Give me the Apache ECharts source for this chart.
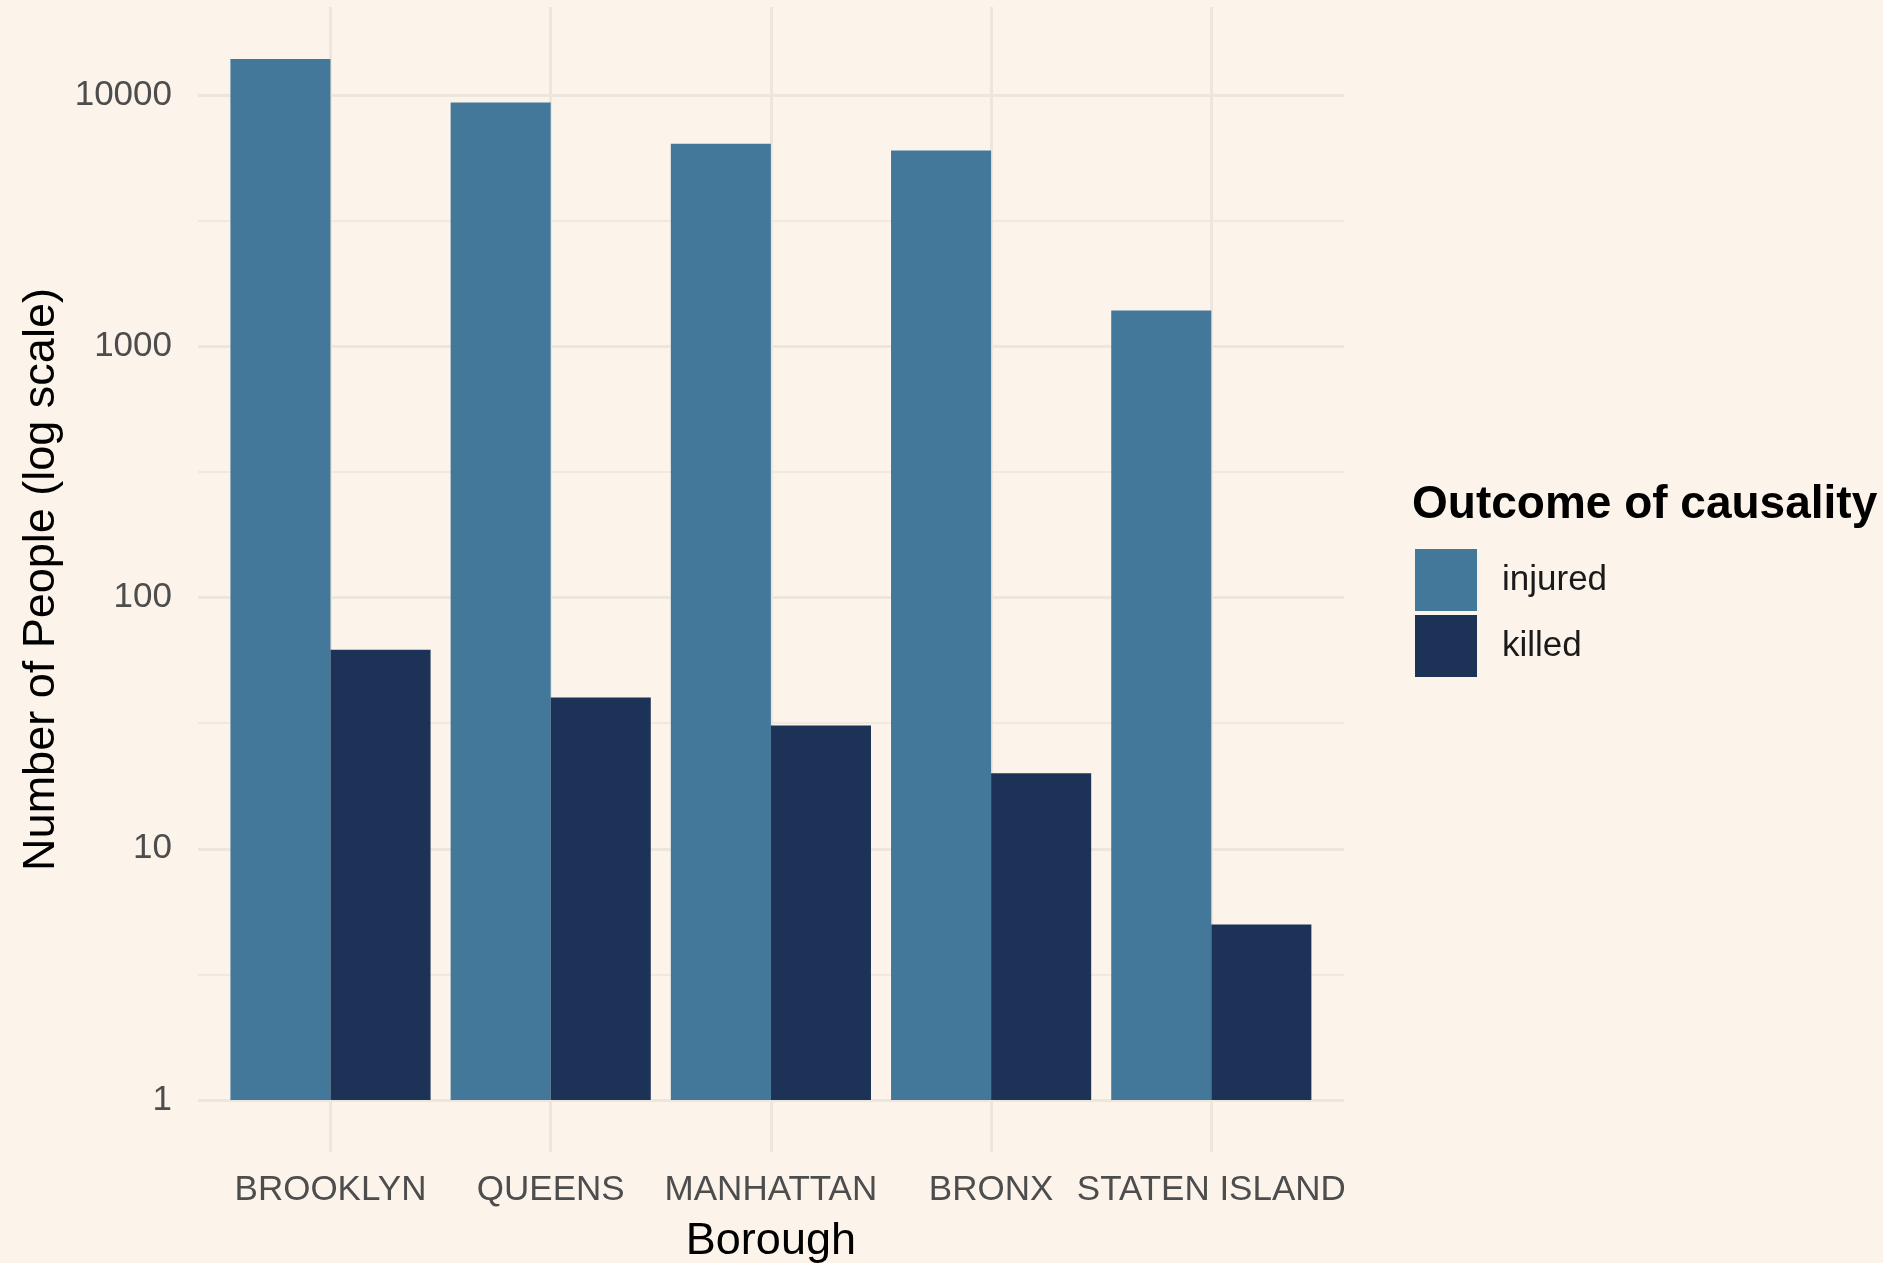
<!DOCTYPE html>
<html>
<head>
<meta charset="utf-8">
<script src="https://cdn.jsdelivr.net/npm/echarts@6/dist/echarts.min.js"></script>
<style>
html,body{margin:0;padding:0;background:#FCF4EB;}
#chart{width:1883px;height:1263px;}
</style>
</head>
<body>
<div id="chart"></div>
<script>
// ---- data ----
const boroughs = ['BROOKLYN', 'QUEENS', 'MANHATTAN', 'BRONX', 'STATEN ISLAND'];
const injured = [13950, 9370, 6420, 6030, 1390];
const killed = [62, 40, 31, 20, 5];
const seriesNames = ['injured', 'killed'];
const yTicks = [1, 10, 100, 1000, 10000];
const legendTitle = 'Outcome of causality';
const xTitle = 'Borough';
const yTitle = 'Number of People (log scale)';
const yMin = 0.6207;
const yMax = 22470;

// ---- style ----
const FONT = '"Liberation Sans", Arial, Helvetica, sans-serif';
const GRID_COLOR = '#ECE6DD';
const COLORS = ['#44789B', '#1C3256'];

const chart = echarts.init(document.getElementById('chart'), null, {renderer: 'canvas'});

const gridTop = 7, gridHeight = 1145;

const option = {
  animation: false,
  backgroundColor: '#FCF4EB',
  textStyle: {fontFamily: FONT},
  title: {
    text: legendTitle,
    left: 1412,
    top: 482,
    padding: 0,
    textStyle: {fontFamily: FONT, fontSize: 46, fontWeight: 'bold', color: '#000'}
  },
  legend: {
    data: seriesNames,
    orient: 'vertical',
    left: 1415,
    top: 549,
    padding: 0,
    itemWidth: 62,
    itemHeight: 62,
    itemGap: 4,
    icon: 'rect',
    selectedMode: false,
    textStyle: {fontFamily: FONT, fontSize: 35, color: '#1a1a1a', padding: [4, 0, 0, 20]}
  },
  grid: [
    {left: 198, top: gridTop, width: 1146, height: gridHeight, outerBoundsMode: 'none', containLabel: false},
    {left: 220.4, top: gridTop, width: 1101, height: gridHeight, outerBoundsMode: 'none', containLabel: false}
  ],
  xAxis: [
    {gridIndex: 0, type: 'value', min: 0, max: 1, show: false},
    {
      gridIndex: 1,
      type: 'category',
      data: boroughs,
      axisLine: {show: false},
      axisTick: {show: false},
      axisLabel: {interval: 0, fontSize: 35, color: '#4D4D4D', margin: 21, fontFamily: FONT},
      splitLine: {show: true, alignWithLabel: true, interval: 0, lineStyle: {color: GRID_COLOR, width: 3}},
      name: xTitle,
      nameLocation: 'middle',
      nameGap: 67,
      nameTextStyle: {fontSize: 45, color: '#000', fontFamily: FONT}
    }
  ],
  yAxis: [
    {
      gridIndex: 0,
      type: 'log',
      logBase: 10,
      min: yMin,
      max: yMax,
      position: 'left',
      axisLine: {show: false},
      axisTick: {show: false},
      axisLabel: {
        fontSize: 35, color: '#4D4D4D', margin: 26, fontFamily: FONT,
        padding: [6, 0, 0, 0],
        showMinLabel: false, showMaxLabel: false,
        formatter: function (v) {
          for (const t of yTicks) { if (Math.abs(v - t) / t < 1e-6) return String(t); }
          return '';
        }
      },
      splitLine: {show: true, showMinLine: false, showMaxLine: false, lineStyle: {color: GRID_COLOR, width: 3}},
      name: yTitle,
      nameLocation: 'middle',
      nameGap: 134,
      nameRotate: 90,
      nameTextStyle: {fontSize: 45, color: '#000', fontFamily: FONT},
      z: 2
    },
    {
      gridIndex: 0,
      type: 'log',
      logBase: Math.sqrt(10),
      min: yMin,
      max: yMax,
      splitNumber: 10,
      position: 'left',
      axisLine: {show: false},
      axisTick: {show: false},
      axisLabel: {show: false},
      splitLine: {show: true, showMinLine: false, showMaxLine: false, lineStyle: {color: GRID_COLOR, width: 1.5}},
      z: 1
    },
    {
      gridIndex: 1,
      type: 'log',
      logBase: 10,
      min: yMin,
      max: yMax,
      show: false,
      splitLine: {show: false}
    }
  ],
  series: [
    {
      name: seriesNames[0],
      type: 'bar',
      xAxisIndex: 1,
      yAxisIndex: 2,
      data: injured,
      barGap: '0%',
      barCategoryGap: '9.1%',
      itemStyle: {color: COLORS[0]},
      z: 3
    },
    {
      name: seriesNames[1],
      type: 'bar',
      xAxisIndex: 1,
      yAxisIndex: 2,
      data: killed,
      barGap: '0%',
      barCategoryGap: '9.1%',
      itemStyle: {color: COLORS[1]},
      z: 3
    }
  ]
};

chart.setOption(option);
</script>
</body>
</html>
